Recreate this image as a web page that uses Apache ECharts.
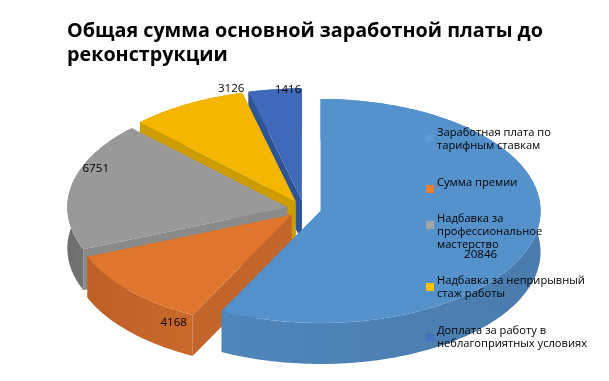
<!DOCTYPE html>
<html>
<head>
<meta charset="utf-8">
<style>
html, body { margin: 0; padding: 0; background: #fff; }
#main { width: 609px; height: 381px; }
</style>
<script src="https://cdn.jsdelivr.net/npm/echarts@6/dist/echarts.min.js"></script>
</head>
<body>
<div id="main"></div>
<script>
const titleText = 'Общая сумма основной заработной платы до\nреконструкции'
const names = [
    'Заработная плата по\nтарифным ставкам',
    'Сумма премии',
    'Надбавка за\nпрофессиональное\nмастерство',
    'Надбавка за неприрывный\nстаж работы',
    'Доплата за работу в\nнеблагоприятных условиях'
]
const values = [20846, 4168, 6751, 3126, 1416]

// цвета: легенда, верх, срез, внешняя стенка (светлая / тёмная)
const legendColors = ['#5b9bd5', '#ed7d31', '#a5a5a5', '#ffc000', '#4472c4']
const topColors = ['#5592cb', '#e0752d', '#999999', '#f4b600', '#4169b9']
const cutColors = ['#4a80b4', '#c2652a', '#8a8a8a', '#cc9c00', '#2f5494']
const wallLeft = ['#4f86bb', '#bd6027', '#6e6e6e', '#cc9c00', '#2f5494']
const wallRight = ['#4a7cad', '#c96a2b', '#828282', '#cc9c00', '#2f5494']

// геометрия псевдо-3D круга
const cx = 304, cy = 209, rx = 220, ry = 112, depth = 41, explode = 17

// подпись значения: сдвиг от середины внешней дуги
const labelShift = [[-54, 18], [44, 32], [24, -16], [44, -15], [13, 0]]
// легенда: положение квадратов и текста
const legendTop = [134, 185, 221, 283, 333]
const legendTextTop = [126, 176, 212, 274, 324]

const total = values.reduce((a, b) => a + b, 0)
const rad = v => v / total * Math.PI * 2

const sliceAngles = i => {
    const start = rad(values.slice(0, i).reduce((a, b) => a + b, 0))
    return [start, start + rad(values[i])]
}

const onEllipse = (x0, y0, a) => [x0 + rx * Math.sin(a), y0 - ry * Math.cos(a)]

const renderSlice = i => () => {
    const [a0, a1] = sliceAngles(i)
    const mid = (a0 + a1) / 2
    const x0 = cx + explode * Math.sin(mid)
    const y0 = cy - explode * (ry / rx) * Math.cos(mid)

    const arc = []
    const steps = Math.ceil((a1 - a0) / 0.02)
    for (let s = 0; s <= steps; s++) {
        arc.push(onEllipse(x0, y0, a0 + (a1 - a0) * s / steps))
    }
    const down = p => [p[0], p[1] + depth]
    const first = arc[0]
    const last = arc[arc.length - 1]
    const apex = [x0, y0]

    const wallFill = new echarts.graphic.LinearGradient(0, 0, 1, 0, [
        {offset: 0, color: wallLeft[i]},
        {offset: 1, color: wallRight[i]}
    ])
    const outer = onEllipse(x0, y0, mid)
    const shift = labelShift[i]

    return {
        type: 'group',
        children: [
            {type: 'polygon', shape: {points: [apex, first, down(first), down(apex)]}, style: {fill: cutColors[i]}},
            {type: 'polygon', shape: {points: [apex, last, down(last), down(apex)]}, style: {fill: cutColors[i]}},
            {type: 'polygon', shape: {points: arc.concat(arc.map(down).reverse())}, style: {fill: wallFill}},
            {type: 'polygon', shape: {points: [apex].concat(arc)}, style: {fill: topColors[i]}},
            {
                type: 'text',
                z2: 100,
                style: {
                    x: outer[0] + shift[0],
                    y: outer[1] + shift[1],
                    text: String(values[i]),
                    fill: '#000',
                    font: '11.6px "Open Sans"',
                    align: 'center',
                    verticalAlign: 'middle'
                }
            }
        ]
    }
}

// рисуем от дальних секторов к ближним
const drawOrder = [4, 3, 2, 1, 0]

const chart = echarts.init(document.getElementById('main'))
chart.setOption({
    animation: false,
    title: {
        text: titleText,
        left: 67,
        top: 19,
        padding: 0,
        textStyle: {
            fontFamily: 'Open Sans',
            fontWeight: 'bold',
            fontSize: 19.75,
            lineHeight: 24,
            color: '#000'
        }
    },
    legend: names.map((name, i) => ({
        data: [name],
        left: 426,
        top: legendTop[i],
        padding: 0,
        itemWidth: 8,
        itemHeight: 8,
        icon: 'rect',
        selectedMode: false,
        formatter: () => ''
    })),
    series: drawOrder.map(i => ({
        type: 'custom',
        name: names[i],
        coordinateSystem: 'none',
        silent: true,
        itemStyle: {color: legendColors[i]},
        data: [[values[i]]],
        renderItem: renderSlice(i)
    })),
    graphic: names.map((name, i) => ({
        type: 'text',
        left: 437,
        top: legendTextTop[i],
        z: 100,
        silent: true,
        style: {
            text: name,
            fill: '#000',
            font: '11.15px "Open Sans"',
            lineHeight: 13
        }
    }))
})
</script>
</body>
</html>
